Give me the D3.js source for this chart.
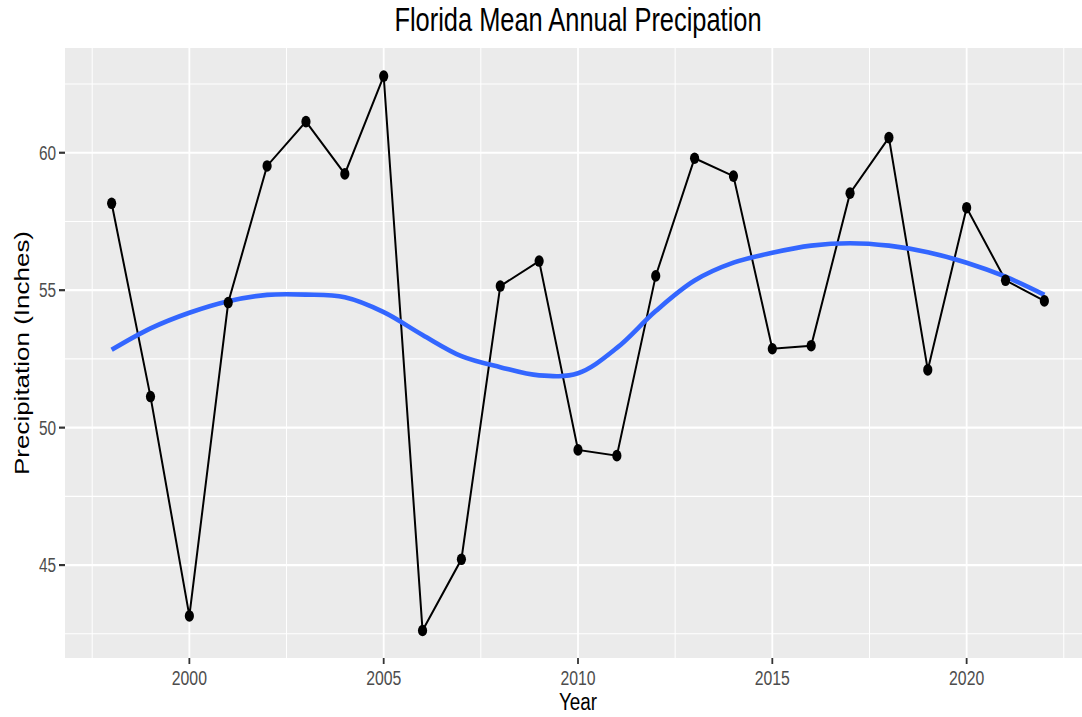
<!DOCTYPE html>
<html>
<head>
<meta charset="utf-8">
<script src="https://cdn.jsdelivr.net/npm/d3@7"></script>
<style>
  body { margin: 0; background: #fff; }
  text { font-family: "Liberation Sans", Arial, sans-serif; }
</style>
</head>
<body>
<svg width="1082" height="717"></svg>
<script>
const years = [1998, 1999, 2000, 2001, 2002, 2003, 2004, 2005, 2006, 2007, 2008, 2009,
    2010, 2011, 2012, 2013, 2014, 2015, 2016, 2017, 2018, 2019, 2020, 2021, 2022];
const precip = [58.16, 51.13, 43.15, 54.55, 59.52, 61.13, 59.23, 62.79, 42.62, 45.21, 55.15, 56.06,
    49.19, 48.98, 55.52, 59.80, 59.15, 52.87, 52.98, 58.53, 60.55, 52.10, 58.00, 55.36, 54.61];
// loess fit, one value per year
const smoothFit = [52.83, 53.61, 54.18, 54.60, 54.83, 54.84, 54.74, 54.20, 53.37, 52.60, 52.20, 51.90,
    51.98, 52.90, 54.24, 55.35, 56.00, 56.36, 56.62, 56.71, 56.62, 56.38, 56.00, 55.49, 54.83];
const xMajor = [2000, 2005, 2010, 2015, 2020];
const xMinor = [1997.5, 2002.5, 2007.5, 2012.5, 2017.5, 2022.5];
const yMajor = [45, 50, 55, 60];
const yMinor = [42.5, 47.5, 52.5, 57.5, 62.5];

const svg = d3.select("svg");
const panel = {left: 65, top: 48, right: 1091, bottom: 658};
const sx = 0.77; // horizontal squeeze of the source picture

const x = d3.scaleLinear().domain([1996.8, 2023.2]).range([panel.left, panel.right]);
const y = d3.scaleLinear().domain([41.62, 63.81]).range([panel.bottom, panel.top]);

svg.append("clipPath").attr("id", "clip")
    .append("rect")
    .attr("x", panel.left).attr("y", panel.top)
    .attr("width", panel.right - panel.left).attr("height", panel.bottom - panel.top);

const g = svg.append("g").attr("clip-path", "url(#clip)");

g.append("rect")
    .attr("x", panel.left).attr("y", panel.top)
    .attr("width", panel.right - panel.left).attr("height", panel.bottom - panel.top)
    .attr("fill", "#EBEBEB");

// grid
g.selectAll(".ymin").data(yMinor).enter().append("line")
    .attr("x1", panel.left).attr("x2", panel.right)
    .attr("y1", d => y(d)).attr("y2", d => y(d))
    .attr("stroke", "#fff").attr("stroke-width", 1.1);
g.selectAll(".xmin").data(xMinor).enter().append("line")
    .attr("y1", panel.top).attr("y2", panel.bottom)
    .attr("x1", d => x(d)).attr("x2", d => x(d))
    .attr("stroke", "#fff").attr("stroke-width", 1);
g.selectAll(".ymaj").data(yMajor).enter().append("line")
    .attr("x1", panel.left).attr("x2", panel.right)
    .attr("y1", d => y(d)).attr("y2", d => y(d))
    .attr("stroke", "#fff").attr("stroke-width", 2.2);
g.selectAll(".xmaj").data(xMajor).enter().append("line")
    .attr("y1", panel.top).attr("y2", panel.bottom)
    .attr("x1", d => x(d)).attr("x2", d => x(d))
    .attr("stroke", "#fff").attr("stroke-width", 1.8);

const data = years.map((yr, i) => ({year: yr, value: precip[i], fit: smoothFit[i]}));

g.append("path")
    .datum(data)
    .attr("fill", "none")
    .attr("stroke", "#000")
    .attr("stroke-width", 2)
    .attr("d", d3.line().x(d => x(d.year)).y(d => y(d.value)));

g.append("path")
    .datum(data)
    .attr("fill", "none")
    .attr("stroke", "#3366FF")
    .attr("stroke-width", 4.6)
    .attr("d", d3.line().curve(d3.curveCatmullRom).x(d => x(d.year)).y(d => y(d.fit)));

g.selectAll(".pt").data(data).enter().append("ellipse")
    .attr("cx", d => x(d.year)).attr("cy", d => y(d.value))
    .attr("rx", 4.6).attr("ry", 5.8)
    .attr("fill", "#000");

// ticks
svg.selectAll(".xt").data(xMajor).enter().append("line")
    .attr("x1", d => x(d)).attr("x2", d => x(d))
    .attr("y1", panel.bottom).attr("y2", panel.bottom + 6)
    .attr("stroke", "#333").attr("stroke-width", 1.8);
svg.selectAll(".yt").data(yMajor).enter().append("line")
    .attr("x1", panel.left - 6).attr("x2", panel.left)
    .attr("y1", d => y(d)).attr("y2", d => y(d))
    .attr("stroke", "#333").attr("stroke-width", 2.2);

function squeezed(px, py, str, size, color, anchor, extra) {
    return svg.append("text")
        .attr("transform", `translate(${px},${py}) scale(${sx},1)` + (extra || ""))
        .attr("text-anchor", anchor)
        .attr("font-size", size)
        .attr("fill", color)
        .text(str);
}

xMajor.forEach(d => squeezed(x(d), 685, d, 20.5, "#4D4D4D", "middle"));
yMajor.forEach(d => squeezed(panel.left - 9, y(d) + 7, d, 20, "#4D4D4D", "end"));

squeezed((panel.left + panel.right) / 2, 31, "Florida Mean Annual Precipation", 33, "#000", "middle");
squeezed((panel.left + panel.right) / 2, 710, "Year", 24.5, "#000", "middle");
squeezed(29, (panel.top + panel.bottom) / 2, "Precipitation (Inches)", 26, "#000", "middle", " rotate(-90)");
</script>
</body>
</html>
